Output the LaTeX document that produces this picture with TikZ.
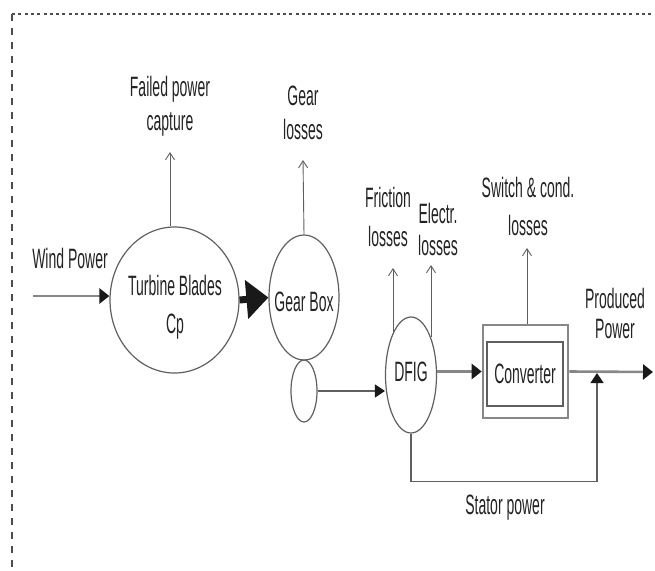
\documentclass[tikz,border=0pt]{standalone}
\usepackage{fontspec}
\setmainfont{Liberation Sans}[FakeStretch=0.5]
\usetikzlibrary{shapes.geometric,arrows.meta}
\definecolor{ln}{RGB}{95,95,95}
\definecolor{fl}{RGB}{135,135,135}
\definecolor{tx}{RGB}{35,35,35}
\definecolor{hd}{RGB}{25,25,25}
\begin{document}
\begin{tikzpicture}[x=1pt,y=-1pt,
  every node/.style={text=tx, font=\fontsize{28}{34}\selectfont, inner sep=0pt},
  lbl/.style={align=center},
  blob/.style={ellipse, draw=ln, line width=1.2pt, inner sep=0pt, minimum width=#1},
  lossarrow/.style={draw=ln, line width=0.9pt, -{Straight Barb[length=7pt,width=9pt,line width=0.9pt]}},
  flow/.style={draw=fl, line width=2.6pt, -{Triangle[length=10pt,width=15pt,color=hd]}},
  thinflow/.style={draw=ln, line width=1.4pt, -{Triangle[length=10pt,width=13pt,color=hd]}},
]
\useasboundingbox (0,0) rectangle (655,570);
% frame
\draw[color=ln!80!black, line width=2pt, dash pattern=on 3pt off 3.3pt] (12,14) -- (655,14);
\draw[color=ln!80!black, line width=1.5pt, dash pattern=on 7pt off 7pt] (12,14) -- (12,570);

% blocks
\node[blob=129pt, minimum height=146pt] (tb) at (174.5,300) {};
\node (tbt) at (175,307) [lbl] {Turbine Blades\\[4pt]Cp};
\node[blob=70pt, minimum height=125pt] (gb) at (304,297.5) {};
\node (gbt) at (304,302) {Gear Box};
\node[blob=26pt, minimum height=62pt] (se) at (304,391) {};
\node[blob=51pt, minimum height=116pt] (dfig) at (411,375) {};
\node (dfigt) at (411,372) {DFIG};
\node[draw=fl, line width=2.6pt, minimum width=85pt, minimum height=93pt] (convo) at (525.5,371.5) {};
\node[draw=ln, line width=1.3pt, minimum width=76pt, minimum height=64pt] (conv) at (525,374) {Converter};

% labels
\node (wind) at (70,258) {Wind Power};
\node (failed) at (170,106) [lbl] {Failed power\\capture};
\node (gearl) at (303,113) [lbl] {Gear\\losses};
\node (fric) at (388,217) [lbl, font=\fontsize{28}{39}\selectfont] {Friction\\losses};
\node (elec) at (438,229) [lbl, font=\fontsize{28}{32}\selectfont] {Electr.\\losses};
\node (sw) at (528,206) [lbl, font=\fontsize{28}{38}\selectfont] {Switch \& cond.\\losses};
\node (prod) at (615,313) [lbl, font=\fontsize{28}{30}\selectfont] {Produced\\Power};
\node (stat) at (505,508) {Stator power};

% free ends
\coordinate (wstart) at (33,296);
\coordinate (ftip) at (170,152);
\coordinate (gtip) at (303,160);
\coordinate (frtip) at (393,268);
\coordinate (eltip) at (431,265);
\coordinate (swtip) at (527,248);
\coordinate (outtip) at (653,372);
\coordinate (join) at (597,373);

% loss arrows
\draw[lossarrow] (ftip |- tb.north) -- (ftip);
\draw[lossarrow] (gb.north) -- (gtip);
\draw[lossarrow] (dfig.113) -- (dfig.113 |- frtip);
\draw[lossarrow] (dfig.62) -- (dfig.62 |- eltip);
\draw[lossarrow] (swtip |- convo.north) -- (swtip);

% power flow
\draw[flow] (wstart) -- (wstart -| tb.west);
\draw[draw=hd, line width=7pt, -{Triangle[length=22pt,width=38pt,color=hd]}] (tb.east) -- (gb.west);
\draw[thinflow] (se.east) -- (se.east -| dfig.west);
\draw[flow] (dfig.east |- convo.west) -- (convo.west);
\draw[flow] (convo.east) -- (outtip);
\draw[thinflow] (dfig.south) -- ++(0,48) -| (join);
\end{tikzpicture}
\end{document}
